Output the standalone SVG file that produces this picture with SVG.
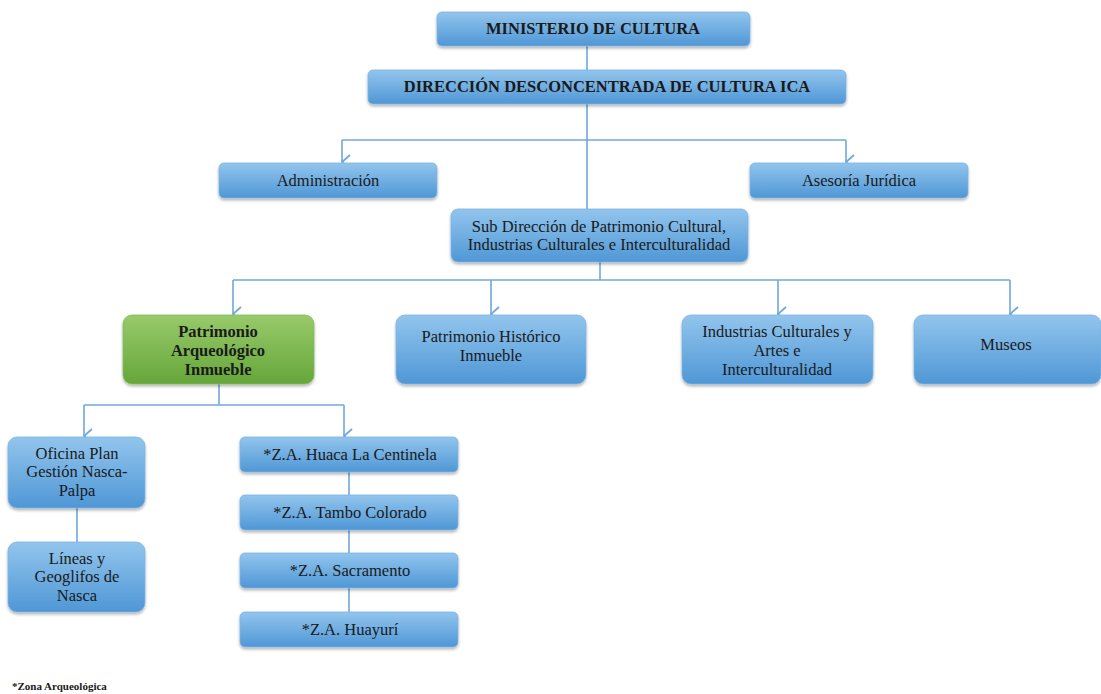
<svg xmlns="http://www.w3.org/2000/svg" width="1101" height="694" viewBox="0 0 1101 694">
<defs>
<linearGradient id="gb" x1="0" y1="0" x2="0" y2="1">
<stop offset="0" stop-color="#92c5ed"/>
<stop offset="1" stop-color="#4f97d6"/>
</linearGradient>
<linearGradient id="gg" x1="0" y1="0" x2="0" y2="1">
<stop offset="0" stop-color="#98ca6a"/>
<stop offset="1" stop-color="#65a63a"/>
</linearGradient>
<filter id="sh" x="-5%" y="-10%" width="110%" height="130%">
<feGaussianBlur in="SourceAlpha" stdDeviation="1.5"/>
<feOffset dx="0" dy="2" result="b"/>
<feComponentTransfer><feFuncA type="linear" slope="0.3"/></feComponentTransfer>
<feMerge><feMergeNode/><feMergeNode in="SourceGraphic"/></feMerge>
</filter>
<marker id="ar" viewBox="0 0 16 10" refX="8" refY="9" markerWidth="16" markerHeight="10" markerUnits="userSpaceOnUse" orient="auto-start-reverse">
<path d="M1,1 L8,9 L15,1" fill="none" stroke="#6fa8dc" stroke-width="1.8"/>
</marker>
</defs>
<style>
.b{fill:url(#gb);stroke:#7fb4e3;stroke-width:0.8;filter:url(#sh)}
.g{fill:url(#gg);stroke:#86bb5c;stroke-width:0.8;filter:url(#sh)}
text{font-family:"Liberation Serif","Times New Roman",serif;font-size:16.5px;fill:#1a1a1a;text-anchor:middle}
.bd{font-weight:bold}
.c{fill:none;stroke:#6fa8dc;stroke-width:1.6}
.ca{fill:none;stroke:#6fa8dc;stroke-width:1.6;marker-end:url(#ar)}
.fn{font-size:11px;text-anchor:start;font-weight:bold}
</style>
<rect width="1101" height="694" fill="#ffffff"/>
<g id="connectors">
<path class="c" d="M587,46 V70"/>
<path class="c" d="M587,104 V209"/>
<path class="c" d="M342,140 H846"/>
<path class="ca" d="M342,140 V162"/>
<path class="ca" d="M846,140 V162"/>
<path class="c" d="M600,262 V280"/>
<path class="c" d="M233,280 H1010"/>
<path class="ca" d="M233,280 V314"/>
<path class="ca" d="M491,280 V314"/>
<path class="ca" d="M778,280 V314"/>
<path class="ca" d="M1010,280 V314"/>
<path class="c" d="M219,384 V405"/>
<path class="c" d="M84,405 H344"/>
<path class="ca" d="M84,405 V436"/>
<path class="ca" d="M344,405 V436"/>
<path class="c" d="M77,508 V542"/>
<path class="c" d="M349,472 V612"/>
</g>
<g id="n1"><rect class="b" x="437" y="12" width="313" height="34" rx="5"/><text class="bd" x="593" y="34">MINISTERIO DE CULTURA</text></g>
<g id="n2"><rect class="b" x="368" y="70" width="478" height="34" rx="5"/><text class="bd" x="607" y="92">DIRECCIÓN DESCONCENTRADA DE CULTURA ICA</text></g>
<g id="n3"><rect class="b" x="219" y="163" width="218" height="35" rx="5"/><text x="328" y="186">Administración</text></g>
<g id="n4"><rect class="b" x="750" y="163" width="218" height="35" rx="5"/><text x="859" y="186">Asesoría Jurídica</text></g>
<g id="n5"><rect class="b" x="451" y="209" width="297" height="53" rx="7"/><text x="599" y="232">Sub Dirección de Patrimonio Cultural,</text><text x="599" y="250">Industrias Culturales e Interculturalidad</text></g>
<g id="n6"><rect class="g" x="123" y="315" width="191" height="69" rx="9"/><text class="bd" x="218" y="337">Patrimonio</text><text class="bd" x="218" y="356">Arqueológico</text><text class="bd" x="218" y="375">Inmueble</text></g>
<g id="n7"><rect class="b" x="396" y="315" width="190" height="69" rx="9"/><text x="491" y="342">Patrimonio Histórico</text><text x="491" y="361">Inmueble</text></g>
<g id="n8"><rect class="b" x="682" y="315" width="191" height="69" rx="9"/><text x="777" y="337">Industrias Culturales y</text><text x="777" y="356">Artes e</text><text x="777" y="375">Interculturalidad</text></g>
<g id="n9"><rect class="b" x="914" y="315" width="187" height="69" rx="9"/><text x="1006" y="350">Museos</text></g>
<g id="n10"><rect class="b" x="8" y="437" width="137" height="71" rx="9"/><text x="77" y="459">Oficina Plan</text><text x="77" y="477">Gestión Nasca-</text><text x="77" y="496">Palpa</text></g>
<g id="n11"><rect class="b" x="8" y="542" width="137" height="70" rx="9"/><text x="77" y="564">Líneas y</text><text x="77" y="582">Geoglifos de</text><text x="77" y="601">Nasca</text></g>
<g id="n12"><rect class="b" x="240" y="437" width="218" height="35" rx="5"/><text x="350" y="460">*Z.A. Huaca La Centinela</text></g>
<g id="n13"><rect class="b" x="240" y="495" width="218" height="35" rx="5"/><text x="350" y="518">*Z.A. Tambo Colorado</text></g>
<g id="n14"><rect class="b" x="240" y="553" width="218" height="35" rx="5"/><text x="350" y="576">*Z.A. Sacramento</text></g>
<g id="n15"><rect class="b" x="240" y="612" width="218" height="35" rx="5"/><text x="350" y="635">*Z.A. Huayurí</text></g>
<text class="fn" x="12" y="690">*Zona Arqueológica</text>
</svg>
